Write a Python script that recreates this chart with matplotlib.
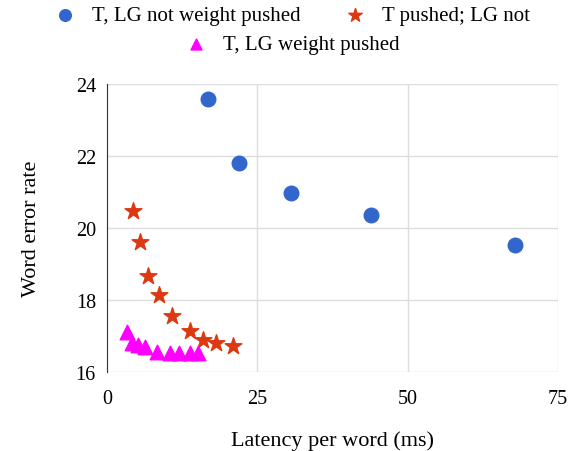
import matplotlib
matplotlib.use("Agg")
import matplotlib.pyplot as plt

# T, LG not weight pushed
lat_blue = [16.8, 21.9, 30.6, 43.9, 67.9]
wer_blue = [23.58, 21.8, 20.97, 20.35, 19.53]

# T pushed; LG not
lat_red = [4.4, 5.5, 6.9, 8.7, 10.8, 13.8, 16.0, 18.1, 20.9]
wer_red = [20.48, 19.6, 18.66, 18.14, 17.56, 17.15, 16.89, 16.81, 16.73]

# T, LG weight pushed
lat_mag = [3.4, 4.1, 5.2, 6.3, 8.3, 10.4, 12.0, 13.8, 15.2]
wer_mag = [17.1, 16.8, 16.74, 16.68, 16.55, 16.52, 16.52, 16.52, 16.52]

plt.rcParams['font.family'] = ['Liberation Serif', 'DejaVu Serif']

fig = plt.figure(figsize=(5.74, 4.52), dpi=100)
ax = fig.add_axes([0.1864, 0.175, 0.7856, 0.637])

h1 = ax.scatter(lat_blue, wer_blue, s=110, color='#3366cc', marker='o',
                label='T, LG not weight pushed', zorder=3)
h2 = ax.scatter(lat_red, wer_red, s=160, color='#dc3912', marker='*',
                label='T pushed; LG not', zorder=3)
h3 = ax.scatter(lat_mag, wer_mag, s=110, color='#ff00ff', marker='^',
                label='T, LG weight pushed', zorder=3)

ax.set_xlim(0, 75)
ax.set_ylim(16, 24)
ax.set_xticks([0, 25, 50, 75])
ax.set_yticks([16, 18, 20, 22, 24])
ax.grid(True, color='#dddddd', linewidth=1)
ax.set_axisbelow(True)
for side in ['top', 'right', 'bottom']:
    ax.spines[side].set_visible(False)
ax.spines['left'].set_color('#333333')
ax.tick_params(length=0, labelsize=14.5, pad=8)
ax.tick_params(axis='x', pad=12)

ax.set_xlabel('Latency per word (ms)', fontsize=16, labelpad=16)
ax.set_ylabel('Word error rate', fontsize=16, labelpad=25)

leg1 = fig.legend(handles=[h1, h2], loc='center', bbox_to_anchor=(0.5, 0.964),
                  ncol=2, frameon=False, fontsize=15, handletextpad=0.3,
                  columnspacing=1.6, markerscale=0.8)
fig.legend(handles=[h3], loc='center', bbox_to_anchor=(0.5, 0.899),
           frameon=False, fontsize=15, handletextpad=0.3, markerscale=0.75)

fig.savefig('out.png', dpi=100)
